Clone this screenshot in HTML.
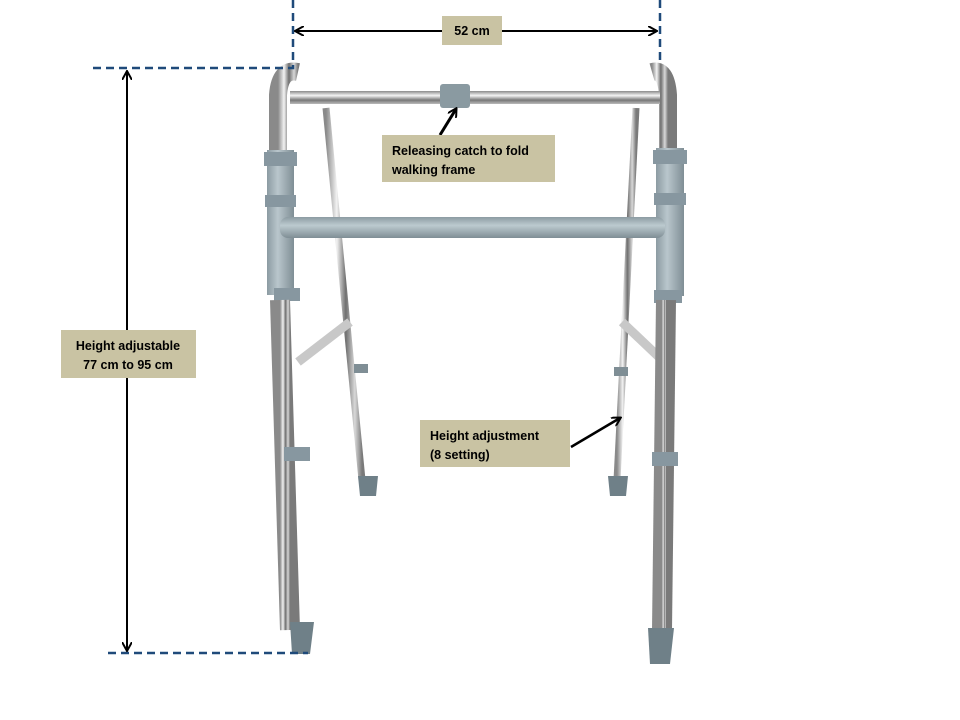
<!DOCTYPE html>
<html><head><meta charset="utf-8"><style>
html,body{margin:0;padding:0;background:#fff;}
svg{display:block}
text{font-family:"Liberation Sans",sans-serif;font-weight:bold;font-size:12.5px;fill:#000}
</style></head><body>
<svg width="960" height="720" viewBox="0 0 960 720" xmlns="http://www.w3.org/2000/svg">
<defs>
<linearGradient id="ch" x1="0" x2="1" y1="0" y2="0">
<stop offset="0" stop-color="#8a8a8a"/><stop offset="0.3" stop-color="#f2f2f2"/><stop offset="0.55" stop-color="#6f6f6f"/><stop offset="0.8" stop-color="#d8d8d8"/><stop offset="1" stop-color="#7a7a7a"/></linearGradient>
<linearGradient id="chh" x1="0" x2="0" y1="0" y2="1">
<stop offset="0" stop-color="#8a8a8a"/><stop offset="0.35" stop-color="#f4f4f4"/><stop offset="0.7" stop-color="#777"/><stop offset="1" stop-color="#bbb"/></linearGradient>
<linearGradient id="gr" x1="0" x2="1"><stop offset="0" stop-color="#8c9ba2"/><stop offset="0.4" stop-color="#b9c6cc"/><stop offset="1" stop-color="#7f8e95"/></linearGradient>
<linearGradient id="grh" x1="0" x2="0" y1="0" y2="1"><stop offset="0" stop-color="#8c9ba2"/><stop offset="0.4" stop-color="#bccacf"/><stop offset="1" stop-color="#7f8e95"/></linearGradient>
<marker id="ah" markerWidth="10" markerHeight="10" refX="8" refY="5" orient="auto" markerUnits="userSpaceOnUse"><path d="M0,0 L9,5 L0,10" fill="none" stroke="#000" stroke-width="2"/></marker>
</defs>

<!-- back legs -->
<path d="M326,108 L362,480" stroke="url(#ch)" stroke-width="7" fill="none"/>
<path d="M636,108 L617,480" stroke="url(#ch)" stroke-width="7" fill="none"/>
<rect x="354" y="364" width="14" height="9" fill="#7f8e95"/>
<rect x="614" y="367" width="14" height="9" fill="#7f8e95"/>
<path d="M358,476 h20 l-2,20 h-16 z" fill="#6f8088"/>
<path d="M608,476 h20 l-2,20 h-16 z" fill="#6f8088"/>
<!-- braces -->
<path d="M298,362 L350,322" stroke="#c8c8c8" stroke-width="9"/>
<path d="M662,360 L622,322" stroke="#c8c8c8" stroke-width="9"/>

<!-- top curves -->
<path d="M278,150 L278,95 Q280,68 298,72" stroke="url(#ch)" stroke-width="18" fill="none"/>
<path d="M668,150 L668,95 Q666,68 652,72" stroke="url(#ch)" stroke-width="18" fill="none"/>
<!-- top bar -->
<rect x="290" y="91" width="370" height="13" fill="url(#chh)"/>
<rect x="440" y="84" width="30" height="24" rx="3" fill="#8a9aa1"/>
<!-- grey upper legs -->
<rect x="267" y="150" width="27" height="145" fill="url(#gr)"/>
<rect x="656" y="148" width="28" height="148" fill="url(#gr)"/>
<rect x="264" y="152" width="33" height="14" fill="#8797a0"/>
<rect x="265" y="195" width="31" height="12" fill="#8797a0"/>
<rect x="653" y="150" width="34" height="14" fill="#8797a0"/>
<rect x="654" y="193" width="32" height="12" fill="#8797a0"/>
<rect x="274" y="288" width="26" height="13" fill="#8797a0"/>
<rect x="654" y="290" width="28" height="13" fill="#8797a0"/>
<!-- grey crossbar -->
<rect x="280" y="217" width="385" height="21" rx="8" fill="url(#grh)"/>
<!-- chrome lower legs -->
<path d="M280,300 L290,630" stroke="url(#ch)" stroke-width="20" fill="none"/>
<path d="M666,300 L662,630" stroke="url(#ch)" stroke-width="20" fill="none"/>
<rect x="284" y="447" width="26" height="14" fill="#8797a0"/>
<rect x="652" y="452" width="26" height="14" fill="#8797a0"/>
<path d="M290,622 h24 l-4,32 h-18 z" fill="#6f8088"/>
<path d="M648,628 h26 l-4,36 h-20 z" fill="#6f8088"/>

<!-- dashed dimension lines -->
<g stroke="#1f4a7a" stroke-width="2.5" stroke-dasharray="8,5" fill="none">
<path d="M293,0 V68 H90"/>
<path d="M660,0 V62"/>
<path d="M108,653 H308"/>
</g>
<!-- arrows -->
<line x1="296" y1="31" x2="656" y2="31" stroke="#000" stroke-width="2" marker-end="url(#ah)"/>
<line x1="656" y1="31" x2="296" y2="31" stroke="#000" stroke-width="2" marker-end="url(#ah)"/>
<line x1="127" y1="72" x2="127" y2="650" stroke="#000" stroke-width="2" marker-end="url(#ah)"/>
<line x1="127" y1="650" x2="127" y2="72" stroke="#000" stroke-width="2" marker-end="url(#ah)"/>
<line x1="440" y1="135" x2="456" y2="109" stroke="#000" stroke-width="3" marker-end="url(#ah)"/>
<line x1="571" y1="447" x2="620" y2="418" stroke="#000" stroke-width="2.5" marker-end="url(#ah)"/>

<!-- label boxes -->
<rect x="442" y="16" width="60" height="29" fill="#c9c3a3"/>
<text x="472" y="35" text-anchor="middle">52 cm</text>
<rect x="382" y="135" width="173" height="47" fill="#c9c3a3"/>
<text x="392" y="155">Releasing catch to fold</text>
<text x="392" y="174">walking frame</text>
<rect x="61" y="330" width="135" height="48" fill="#c9c3a3"/>
<text x="128" y="350" text-anchor="middle">Height adjustable</text>
<text x="128" y="369" text-anchor="middle">77 cm to 95 cm</text>
<rect x="420" y="420" width="150" height="47" fill="#c9c3a3"/>
<text x="430" y="440">Height adjustment</text>
<text x="430" y="459">(8 setting)</text>
</svg>
</body></html>
